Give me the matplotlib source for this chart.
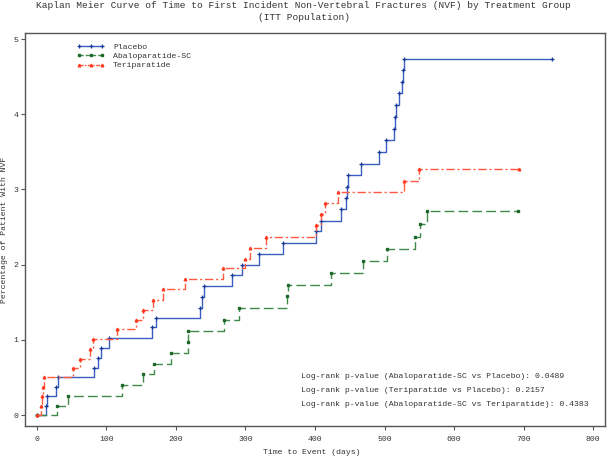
import numpy as np
import matplotlib
matplotlib.use("Agg")
import matplotlib.pyplot as plt
from matplotlib.lines import Line2D

W, H = 607, 459

# Kaplan-Meier estimates (days, cumulative %)
placebo_days = [0, 13, 14, 27, 30, 82, 88, 92, 104, 166, 171, 235, 237, 240,
                281, 295, 319, 354, 401, 408, 437, 444, 446, 448, 466, 492,
                502, 514, 515, 517, 521, 525, 527, 528, 741]
placebo_pct = [0, 0.12, 0.25, 0.37, 0.50, 0.62, 0.76, 0.89, 1.02, 1.17, 1.29,
               1.42, 1.57, 1.71, 1.86, 1.99, 2.14, 2.29, 2.45, 2.58, 2.74,
               2.89, 3.03, 3.19, 3.34, 3.50, 3.66, 3.80, 3.96, 4.12, 4.28,
               4.43, 4.59, 4.73, 4.73]

abalo_days = [0, 29, 45, 122, 152, 168, 193, 217, 218, 269, 291, 360, 361,
              423, 469, 504, 544, 551, 561, 692]
abalo_pct = [0, 0.12, 0.25, 0.40, 0.54, 0.68, 0.82, 0.97, 1.12, 1.27, 1.42,
             1.58, 1.73, 1.89, 2.05, 2.21, 2.37, 2.54, 2.71, 2.71]

teri_days = [0, 6, 7, 9, 11, 52, 62, 76, 81, 116, 142, 153, 167, 181, 213,
             267, 299, 306, 330, 401, 408, 415, 433, 528, 550, 694]
teri_pct = [0, 0.12, 0.25, 0.37, 0.50, 0.62, 0.75, 0.88, 1.01, 1.14, 1.27,
            1.40, 1.53, 1.67, 1.81, 1.95, 2.08, 2.22, 2.37, 2.53, 2.67, 2.82,
            2.97, 3.11, 3.27, 3.27]

pvalue_lines = [
    "Log-rank p-value (Abaloparatide-SC vs Placebo): 0.0489",
    "Log-rank p-value (Teriparatide vs Placebo): 0.2157",
    "Log-rank p-value (Abaloparatide-SC vs Teriparatide): 0.4383",
]

mono = "Liberation Mono"
txt = "#333333"

fig = plt.figure(figsize=(W / 100, H / 100), dpi=100)
ax = fig.add_axes([25 / W, 1 - 426 / H, 580 / W, 393 / H])

blue, green, red = "#3a5fc0", "#3f8a4a", "#ff5a40"
blue_m, green_m, red_m = "#1a3a9a", "#1f6a2a", "#ff3a20"

ax.step(placebo_days, placebo_pct, where="post", color=blue, lw=1.0,
        marker="+", ms=2.6, mew=0.9, mec=blue_m)
ax.step(abalo_days, abalo_pct, where="post", color=green, lw=1.0,
        dashes=(7, 3), marker="s", ms=1.6, mec=green_m, mfc=green_m)
ax.step(teri_days, teri_pct, where="post", color=red, lw=1.0,
        dashes=(6, 2, 1.5, 2), marker="^", ms=1.9, mec=red_m, mfc=red_m)

ax.set_xlim(-17, 817)
ax.set_ylim(-0.146, 5.08)
ax.set_xticks(range(0, 801, 100))
ax.set_yticks(range(0, 6))
ax.tick_params(direction="out", length=3, width=0.8, colors="#555555",
               labelcolor=txt, labelsize=5.9)
ax.tick_params(axis="x", pad=4)
ax.tick_params(axis="y", pad=2)
for lab in ax.get_xticklabels() + ax.get_yticklabels():
    lab.set_fontfamily(mono)
for s in ax.spines.values():
    s.set_color("#555555")
    s.set_linewidth(1.0)

fig.text(0.5, 1 - 5.5 / H, "Kaplan Meier Curve of Time to First Incident "
         "Non-Vertebral Fractures (NVF) by Treatment Group",
         ha="center", va="center", family=mono, fontsize=6.8, color=txt)
fig.text(0.5, 1 - 17.5 / H, "(ITT Population)", ha="center", va="center",
         family=mono, fontsize=6.8, color=txt)
fig.text(312 / W, 1 - 452 / H, "Time to Event (days)", ha="center",
         va="center", family=mono, fontsize=5.9, color=txt)
fig.text(5 / W, 1 - 230 / H, "Percentage of Patient With NVF", ha="center",
         va="center", rotation=90, family=mono, fontsize=5.9, color=txt)

for i, line in enumerate(pvalue_lines):
    fig.text(301 / W, 1 - (376 + 14.5 * i) / H, line, ha="left",
             va="center", family=mono, fontsize=5.9, color=txt)

handles = [
    Line2D([], [], color=blue, lw=1.0, marker="+", ms=2.6, mew=0.9,
           mec=blue_m),
    Line2D([], [], color=green, lw=1.0, dashes=(3, 1.5), marker="s",
           ms=1.6, mec=green_m, mfc=green_m),
    Line2D([], [], color=red, lw=1.0, dashes=(3, 1, 1, 1), marker="^",
           ms=1.9, mec=red_m, mfc=red_m),
]
leg = ax.legend(handles, ["Placebo", "Abaloparatide-SC", "Teriparatide"],
                loc="upper left", bbox_to_anchor=(77 / W, 1 - 43 / H),
                bbox_transform=fig.transFigure, frameon=False, numpoints=3,
                handlelength=3.4, handletextpad=1.0, labelspacing=0.2,
                borderpad=0, borderaxespad=0,
                prop={"family": mono, "size": 5.9})
for t in leg.get_texts():
    t.set_color(txt)

fig.savefig("out.png", dpi=100)
